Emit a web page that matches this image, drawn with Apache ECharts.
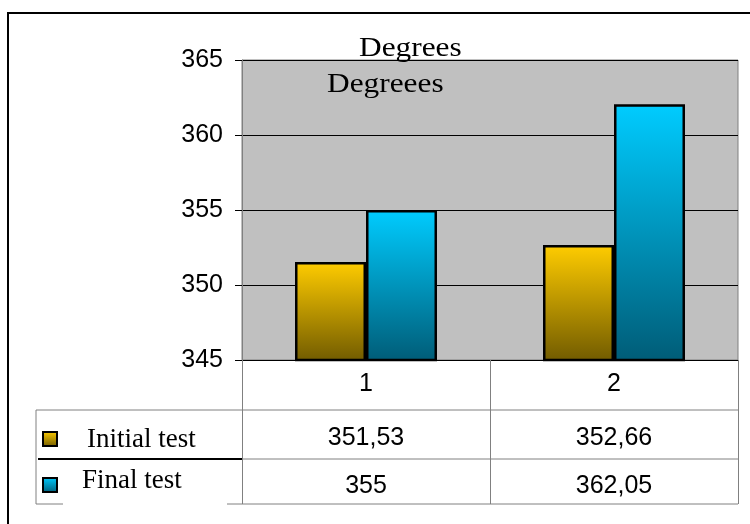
<!DOCTYPE html>
<html>
<head>
<meta charset="utf-8">
<script src="https://cdn.jsdelivr.net/npm/echarts@6/dist/echarts.min.js"></script>
<style>html,body{margin:0;padding:0;background:#fff;}#c{width:750px;height:524px;}</style>
</head>
<body>
<div id="c"></div>
<script>
const categories = ['1', '2'];
const seriesNames = ['Initial test', 'Final test'];
const initialTest = [351.53, 352.66];
const finalTest = [355, 362.05];
const yMin = 345, yMax = 365, yStep = 5;
const titleLines = ['Degrees', 'Degreees'];

const fmt = v => String(v).replace('.', ',');
const yellowGrad = new echarts.graphic.LinearGradient(0, 0, 0, 1, [
  {offset: 0, color: '#FFCC00'}, {offset: 1, color: '#715B00'}]);
const cyanGrad = new echarts.graphic.LinearGradient(0, 0, 0, 1, [
  {offset: 0, color: '#00CCFF'}, {offset: 1, color: '#005C77'}]);

const chart = echarts.init(document.getElementById('c'), null, {renderer: 'canvas'});
const serif = 'Liberation Serif, Times New Roman, serif';
const sans = 'Liberation Sans, Arial, sans-serif';

chart.setOption({
  animation: false,
  backgroundColor: '#ffffff',
  grid: {left: 242, right: 12, top: 60, bottom: 164, show: true,
    backgroundColor: '#C0C0C0', borderColor: '#808080', borderWidth: 1},
  xAxis: {
    type: 'category', data: categories,
    axisLine: {show: true, lineStyle: {color: '#000', width: 1}},
    axisTick: {show: true, length: 50, lineStyle: {color: '#808080'}},
    axisLabel: {color: '#000', fontSize: 25, fontFamily: sans, margin: 12}
  },
  yAxis: {
    type: 'value', min: yMin, max: yMax, interval: yStep,
    axisLine: {show: true, lineStyle: {color: '#808080'}},
    axisTick: {show: true, length: 7, lineStyle: {color: '#000'}},
    axisLabel: {color: '#000', fontSize: 25, fontFamily: sans, margin: 19},
    splitLine: {show: true, lineStyle: {color: '#000', width: 1}}
  },
  series: [
    {name: seriesNames[0], type: 'bar', data: initialTest, barWidth: 71, barGap: '0%',
      itemStyle: {color: yellowGrad, borderColor: '#000', borderWidth: 2.5}},
    {name: seriesNames[1], type: 'bar', data: finalTest, barWidth: 71, barGap: '0%',
      itemStyle: {color: cyanGrad, borderColor: '#000', borderWidth: 2.5}}
  ]
});

const colX = categories.map((c, i) => chart.convertToPixel({xAxisIndex: 0}, i));
const rowY = [438, 486];
const rowData = [initialTest, finalTest];
const grads = [yellowGrad, cyanGrad];
const keyY = [432, 478];
const nameX = [87, 82];
const nameY = [440, 481];

const gray = '#808080';
const els = [];
els.push({type: 'rect', shape: {x: 8, y: 13, width: 800, height: 600},
  style: {fill: 'none', stroke: '#000', lineWidth: 2}, silent: true});
function line(x1, y1, x2, y2, color, w) {
  els.push({type: 'line', shape: {x1, y1, x2, y2}, style: {stroke: color, lineWidth: w || 1}, silent: true});
}
line(36, 410, 738, 410, gray);
line(36, 410, 36, 504, gray);
line(38, 459, 243, 459, '#000', 2);
line(243, 459, 738, 459, gray);
line(36, 504, 63, 504, gray);
line(227, 504, 738, 504, gray);
line(242.5, 410, 242.5, 504, gray);
line(490.5, 410, 490.5, 504, gray);
line(738.5, 360, 738.5, 504, gray);
els.push({type: 'text', x: 359, y: 49, scaleX: 1.12, style: {text: titleLines[0], font: '28px ' + serif, fill: '#000', align: 'left', verticalAlign: 'middle'}});
els.push({type: 'text', x: 327, y: 85, scaleX: 1.12, style: {text: titleLines[1], font: '28px ' + serif, fill: '#000', align: 'left', verticalAlign: 'middle'}});
for (let r = 0; r < 2; r++) {
  els.push({type: 'rect', shape: {x: 43, y: keyY[r], width: 14, height: 14},
    style: {fill: grads[r], stroke: '#000', lineWidth: 2}});
  els.push({type: 'text', x: nameX[r], y: nameY[r], style: {text: seriesNames[r], font: '27px ' + serif, fill: '#000', align: 'left', verticalAlign: 'middle'}});
  for (let i = 0; i < categories.length; i++) {
    els.push({type: 'text', x: colX[i], y: rowY[r], style: {text: fmt(rowData[r][i]), font: '25px ' + sans, fill: '#000', align: 'center', verticalAlign: 'middle'}});
  }
}
chart.setOption({graphic: {elements: els}});
</script>
</body>
</html>
